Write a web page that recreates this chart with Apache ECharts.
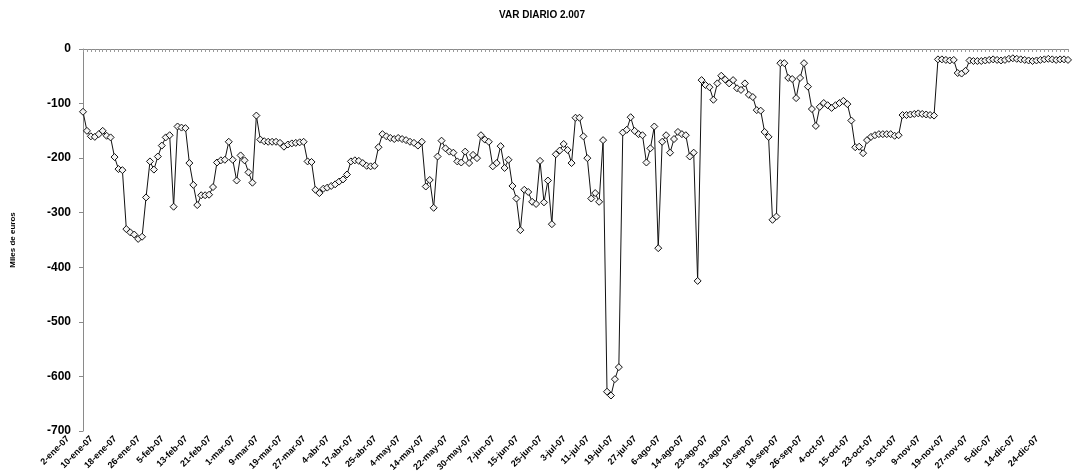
<!DOCTYPE html>
<html>
<head>
<meta charset="utf-8">
<title>VAR DIARIO 2.007</title>
<script src="https://cdn.jsdelivr.net/npm/echarts@6/dist/echarts.min.js"></script>
<style>
  html, body { margin: 0; padding: 0; background: #fff; }
  #chart { width: 1084px; height: 474px; }
</style>
</head>
<body>
<div id="chart"></div>
<script>
// meses y festivos (días hábiles de 2007)
const meses = ["ene", "feb", "mar", "abr", "may", "jun", "jul", "ago", "sep", "oct", "nov", "dic"];
const festivos = ["1-ene", "5-abr", "6-abr", "9-abr", "1-may", "15-ago", "12-oct", "1-nov", "6-dic", "25-dic"];

// VaR diario, miles de euros
const varDiario = [
  -115, -150, -160, -161, -156, -150, -159, -162, -198, -220,
  -222, -330, -336, -340, -348, -344, -272, -206, -221, -197,
  -177, -162, -158, -289, -142, -144, -145, -209, -249, -286,
  -268, -268, -267, -253, -208, -204, -203, -170, -203, -241,
  -195, -204, -226, -245, -122, -166, -169, -170, -170, -170,
  -172, -179, -175, -173, -172, -171, -170, -206, -207, -258,
  -264, -256, -254, -251, -248, -243, -239, -230, -206, -204,
  -205, -209, -214, -215, -214, -180, -156, -160, -163, -165,
  -163, -165, -167, -170, -172, -177, -170, -252, -240, -291,
  -197, -168, -182, -188, -190, -206, -208, -188, -209, -194,
  -200, -158, -166, -170, -215, -209, -178, -218, -203, -251,
  -274, -332, -258, -262, -280, -284, -205, -281, -241, -321,
  -193, -186, -174, -185, -209, -126, -126, -160, -200, -274,
  -264, -280, -167, -628, -635, -605, -583, -153, -148, -125,
  -150, -156, -158, -208, -182, -142, -365, -170, -158, -190,
  -165, -152, -156, -158, -197, -190, -425, -57, -66, -70,
  -93, -63, -49, -56, -63, -57, -72, -75, -63, -84,
  -88, -112, -113, -152, -161, -313, -307, -26, -26, -53,
  -55, -90, -53, -26, -69, -110, -141, -106, -99, -103,
  -108, -103, -99, -95, -101, -131, -180, -179, -191, -167,
  -161, -158, -156, -156, -156, -156, -159, -158, -121, -121,
  -120, -119, -118, -119, -120, -121, -122, -19, -19, -20,
  -21, -20, -44, -45, -40, -21, -22, -22, -22, -21,
  -20, -19, -20, -21, -20, -18, -17, -18, -19, -20,
  -21, -22, -21, -20, -19, -18, -19, -20, -19, -19,
  -20
];

function diasHabiles() {
  const out = [];
  const d = new Date(2007, 0, 1);
  while (d.getFullYear() === 2007) {
    const wd = d.getDay();
    const key = d.getDate() + "-" + meses[d.getMonth()];
    if (wd !== 0 && wd !== 6 && festivos.indexOf(key) < 0) {
      out.push(key + "-07");
    }
    d.setDate(d.getDate() + 1);
  }
  return out;
}
const fechas = diasHabiles();

const chart = echarts.init(document.getElementById("chart"), null, { renderer: "canvas" });
const fontFam = "'Liberation Sans', Arial, sans-serif";

chart.setOption({
  animation: false,
  backgroundColor: "#fff",
  textStyle: { fontFamily: fontFam },
  title: {
    text: "VAR DIARIO 2.007",
    left: "center",
    top: 5,
    textStyle: { fontSize: 10, fontWeight: "bold", color: "#000", fontFamily: fontFam }
  },
  grid: [
    { left: 83, right: 16, top: 49, bottom: 43 },
    { left: 68, right: 31, top: 49, bottom: 43 }
  ],
  xAxis: [
    {
      gridIndex: 0,
      type: "category",
      position: "top",
      boundaryGap: false,
      data: fechas,
      axisLine: { show: true, lineStyle: { color: "#8a8a8a", width: 1 } },
      axisTick: { show: true, interval: 0, inside: true, length: 3, lineStyle: { color: "#9a9a9a" } },
      axisLabel: { show: false },
      splitLine: { show: false }
    },
    {
      gridIndex: 1,
      type: "category",
      position: "bottom",
      boundaryGap: false,
      data: fechas,
      axisLine: { show: false },
      axisTick: { show: false },
      axisLabel: {
        interval: 5,
        rotate: 45,
        margin: 9,
        fontSize: 9,
        fontWeight: "bold",
        color: "#000",
        fontFamily: fontFam
      },
      splitLine: { show: false }
    }
  ],
  yAxis: [
    {
      gridIndex: 0,
      type: "value",
      min: -700,
      max: 0,
      interval: 100,
      name: "Miles de euros",
      nameLocation: "middle",
      nameGap: 66,
      nameTextStyle: { fontSize: 8, fontWeight: "bold", color: "#000", fontFamily: fontFam },
      axisLine: { show: true, lineStyle: { color: "#8a8a8a", width: 1 } },
      axisTick: { show: true, length: 4, lineStyle: { color: "#8a8a8a" } },
      axisLabel: { margin: 12, fontSize: 12, fontWeight: "bold", color: "#000", fontFamily: fontFam },
      splitLine: { show: false }
    },
    {
      gridIndex: 1,
      type: "value",
      min: -700,
      max: 0,
      show: false
    }
  ],
  series: [
    {
      name: "VaR",
      type: "line",
      xAxisIndex: 0,
      yAxisIndex: 0,
      data: varDiario,
      symbol: "diamond",
      symbolSize: 7,
      showAllSymbol: true,
      lineStyle: { color: "#111", width: 1 },
      itemStyle: { color: "#f4f4f4", borderColor: "#111", borderWidth: 1 }
    }
  ]
});
</script>
</body>
</html>
